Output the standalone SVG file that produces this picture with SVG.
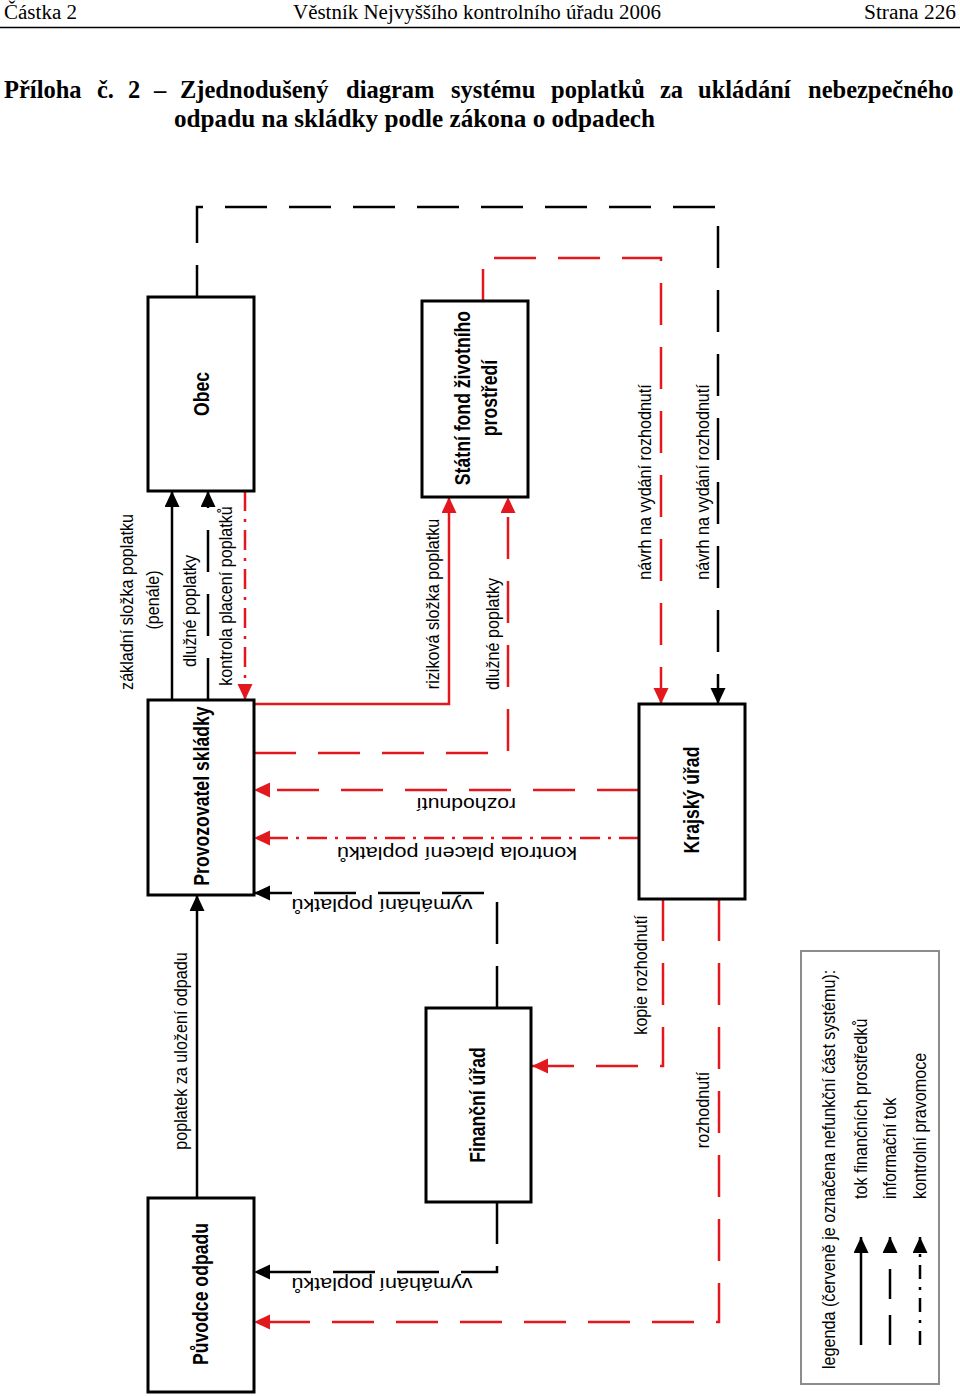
<svg xmlns="http://www.w3.org/2000/svg" width="960" height="1396" viewBox="0 0 960 1396">
<defs>
<style>
.hdr{font-family:"Liberation Serif","Times New Roman",serif;font-size:20px;fill:#000}
.ttl{font-family:"Liberation Serif","Times New Roman",serif;font-size:24.5px;font-weight:bold;fill:#000}
.lbl{font-family:"Liberation Sans",Arial,sans-serif;font-size:19px;fill:#000}
.hl{font-family:"Liberation Sans",Arial,sans-serif;font-size:18px;fill:#000}
.nl{font-family:"Liberation Sans",Arial,sans-serif;font-size:21.5px;font-weight:bold;fill:#000}
.box{fill:#fff;stroke:#000;stroke-width:3}
.k{fill:none;stroke:#000;stroke-width:2.5}
.kd{fill:none;stroke:#000;stroke-width:2.5;stroke-dasharray:42 22}
.r{fill:none;stroke:#e3181f;stroke-width:2.5}
.rd{fill:none;stroke:#e3181f;stroke-width:2.5;stroke-dasharray:42 22}
.rdd{fill:none;stroke:#e3181f;stroke-width:2.5;stroke-dasharray:20 8 3 8}
.kdd{fill:none;stroke:#000;stroke-width:2.5;stroke-dasharray:20 8 3 8}
</style>
<marker id="ak" markerUnits="userSpaceOnUse" markerWidth="18" markerHeight="16" refX="16" refY="7.5" orient="auto"><path d="M0,0 L16,7.5 L0,15 z" fill="#000"/></marker>
<marker id="ar" markerUnits="userSpaceOnUse" markerWidth="18" markerHeight="16" refX="16" refY="7.5" orient="auto"><path d="M0,0 L16,7.5 L0,15 z" fill="#e3181f"/></marker>
</defs>
<rect width="960" height="1396" fill="#fff"/>

<g id="header">
<text class="hdr" x="4" y="19" textLength="73" lengthAdjust="spacingAndGlyphs">Částka 2</text>
<text class="hdr" x="293" y="19" textLength="368" lengthAdjust="spacingAndGlyphs">Věstník Nejvyššího kontrolního úřadu 2006</text>
<text class="hdr" x="864" y="19" textLength="92" lengthAdjust="spacingAndGlyphs">Strana 226</text>
<line x1="0" y1="27.5" x2="960" y2="27.5" stroke="#000" stroke-width="1.5"/>
</g>

<g id="title">
<text class="ttl" y="98"><tspan x="4">Příloha</tspan><tspan x="97">č.</tspan><tspan x="128">2</tspan><tspan x="154">–</tspan><tspan x="180">Zjednodušený</tspan><tspan x="346">diagram</tspan><tspan x="451">systému</tspan><tspan x="551">poplatků</tspan><tspan x="660">za</tspan><tspan x="698">ukládání</tspan><tspan x="808">nebezpečného</tspan></text>
<text class="ttl" x="174" y="127" textLength="481" lengthAdjust="spacingAndGlyphs">odpadu na skládky podle zákona o odpadech</text>
</g>

<g id="connectors">
<path class="k" d="M172,700 V491" marker-end="url(#ak)"/>
<path class="k" d="M197,1198 V895" marker-end="url(#ak)"/>
<path class="kd" d="M208,700 V491" marker-end="url(#ak)"/>
<path class="kd" d="M197,297 V207 H718 V704" style="stroke-dashoffset:10" marker-end="url(#ak)"/>
<path class="kd" d="M497,1008 V893 H254" marker-end="url(#ak)"/>
<path class="kd" d="M497,1202 V1272 H254" marker-end="url(#ak)"/>
<path class="r" d="M254,704 H449 V497" marker-end="url(#ar)"/>
<path class="rd" d="M254,753 H508 V497" marker-end="url(#ar)"/>
<path class="rd" d="M483,301 V258 H661 V704" style="stroke-dashoffset:10" marker-end="url(#ar)"/>
<path class="rd" d="M639,790 H254" marker-end="url(#ar)"/>
<path class="rd" d="M663,899 V1066 H532" marker-end="url(#ar)"/>
<path class="rd" d="M719,899 V1322 H254" marker-end="url(#ar)"/>
<path class="rdd" d="M245,491 V700" marker-end="url(#ar)"/>
<path class="rdd" d="M639,838 H254" marker-end="url(#ar)"/>

<text class="lbl" text-anchor="middle" y="6" transform="translate(127,602) rotate(-90) scale(0.85,1)">základní složka poplatku</text>
<text class="lbl" text-anchor="middle" y="6" transform="translate(153,600) rotate(-90) scale(0.85,1)">(penále)</text>
<text class="lbl" text-anchor="middle" y="6" transform="translate(190,611) rotate(-90) scale(0.85,1)">dlužné poplatky</text>
<text class="lbl" text-anchor="middle" y="6" transform="translate(226,596) rotate(-90) scale(0.85,1)">kontrola placení poplatků</text>
<text class="lbl" text-anchor="middle" y="6" transform="translate(433,604) rotate(-90) scale(0.85,1)">riziková složka poplatku</text>
<text class="lbl" text-anchor="middle" y="6" transform="translate(493,634) rotate(-90) scale(0.85,1)">dlužné poplatky</text>
<text class="lbl" text-anchor="middle" y="6" transform="translate(645,482) rotate(-90) scale(0.85,1)">návrh na vydání rozhodnutí</text>
<text class="lbl" text-anchor="middle" y="6" transform="translate(703,482) rotate(-90) scale(0.85,1)">návrh na vydání rozhodnutí</text>
<text class="lbl" text-anchor="middle" y="6" transform="translate(181,1051) rotate(-90) scale(0.85,1)">poplatek za uložení odpadu</text>
<text class="lbl" text-anchor="middle" y="6" transform="translate(641,975) rotate(-90) scale(0.85,1)">kopie rozhodnutí</text>
<text class="lbl" text-anchor="middle" y="6" transform="translate(703,1110) rotate(-90) scale(0.85,1)">rozhodnutí</text>

<text class="hl" text-anchor="middle" y="6" textLength="100" lengthAdjust="spacingAndGlyphs" transform="translate(466,804) rotate(180)">rozhodnutí</text>
<text class="hl" text-anchor="middle" y="6" textLength="240" lengthAdjust="spacingAndGlyphs" transform="translate(457,853) rotate(180)">kontrola placení poplatků</text>
<text class="hl" text-anchor="middle" y="6" textLength="181" lengthAdjust="spacingAndGlyphs" transform="translate(382,905) rotate(180)">vymáhání poplatků</text>
<text class="hl" text-anchor="middle" y="6" textLength="181" lengthAdjust="spacingAndGlyphs" transform="translate(382,1284) rotate(180)">vymáhání poplatků</text>
</g>

<g id="obec">
<rect class="box" x="148" y="297" width="106" height="194"/>
<text class="nl" text-anchor="middle" y="7" transform="translate(202,394) rotate(-90) scale(0.82,1)">Obec</text>
</g>
<g id="statni-fond">
<rect class="box" x="422" y="301" width="106" height="196"/>
<text class="nl" text-anchor="middle" y="7" transform="translate(463,398) rotate(-90) scale(0.82,1)">Státní fond životního</text>
<text class="nl" text-anchor="middle" y="7" transform="translate(490,398) rotate(-90) scale(0.82,1)">prostředí</text>
</g>
<g id="provozovatel">
<rect class="box" x="148" y="700" width="106" height="195"/>
<text class="nl" text-anchor="middle" y="7" transform="translate(202,796) rotate(-90) scale(0.82,1)">Provozovatel skládky</text>
</g>
<g id="krajsky-urad">
<rect class="box" x="639" y="704" width="106" height="195"/>
<text class="nl" text-anchor="middle" y="7" transform="translate(692,800) rotate(-90) scale(0.82,1)">Krajský úřad</text>
</g>
<g id="financni-urad">
<rect class="box" x="426" y="1008" width="105" height="194"/>
<text class="nl" text-anchor="middle" y="7" transform="translate(478,1105) rotate(-90) scale(0.82,1)">Finanční úřad</text>
</g>
<g id="puvodce">
<rect class="box" x="148" y="1198" width="106" height="194"/>
<text class="nl" text-anchor="middle" y="7" transform="translate(201,1294) rotate(-90) scale(0.82,1)">Původce odpadu</text>
</g>

<g id="legend">
<rect x="801" y="951" width="138" height="433" fill="none" stroke="#8c8c8c" stroke-width="2"/>
<text class="lbl" y="6" transform="translate(829,1369) rotate(-90) scale(0.85,1)">legenda (červeně je označena nefunkční část systému):</text>
<text class="lbl" y="6" transform="translate(861,1199) rotate(-90) scale(0.85,1)">tok finančních prostředků</text>
<text class="lbl" y="6" transform="translate(890,1199) rotate(-90) scale(0.85,1)">informační tok</text>
<text class="lbl" y="6" transform="translate(920,1199) rotate(-90) scale(0.85,1)">kontrolní pravomoce</text>
<path class="k" d="M861,1345 V1237" marker-end="url(#ak)"/>
<path class="kd" d="M890,1345 V1237" style="stroke-dasharray:30 16" marker-end="url(#ak)"/>
<path class="kdd" d="M920,1345 V1237" style="stroke-dasharray:14 8 3 8" marker-end="url(#ak)"/>
</g>
</svg>
